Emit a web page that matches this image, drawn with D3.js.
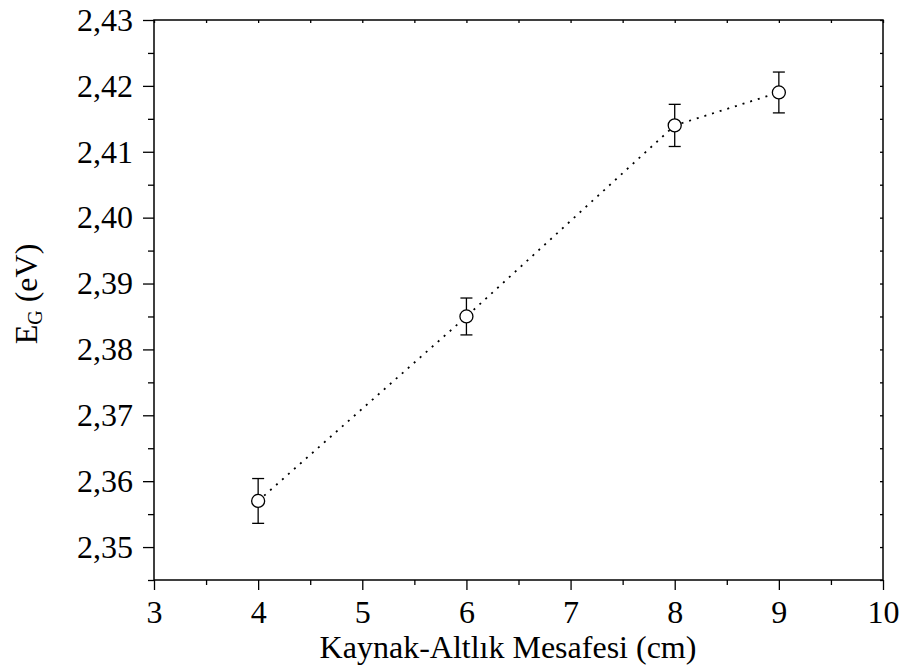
<!DOCTYPE html>
<html><head><meta charset="utf-8">
<script src="https://cdn.jsdelivr.net/npm/d3@7"></script>
<style>body{margin:0;background:#fff}svg{display:block}</style>
</head><body>
<svg id="c" width="903" height="672"></svg>
<script>
const distances = [4, 6, 8, 9];
const energies = [2.357, 2.385, 2.414, 2.419];
const errors = [0.0034, 0.0028, 0.0032, 0.0031];
const xTicks = [3, 4, 5, 6, 7, 8, 9, 10];
const yTicks = [2.35, 2.36, 2.37, 2.38, 2.39, 2.40, 2.41, 2.42, 2.43];

const svg = d3.select("#c");
const L = 154, R = 883, T = 20, B = 580;
const x = d3.scaleLinear().domain([3, 10]).range([L, R]);
const y = d3.scaleLinear().domain([2.345, 2.43]).range([B, T]);
const font = "'Liberation Serif','Times New Roman',serif";
const fmt = d => d3.format(".2f")(d).replace(".", ",");

// bottom axis
svg.append("g").attr("transform", `translate(0,${B})`)
  .call(d3.axisBottom(x).tickValues(xTicks).tickFormat(d3.format("d")).tickSize(10).tickPadding(10));
svg.append("g").attr("transform", `translate(0,${B})`)
  .call(d3.axisBottom(x).tickValues(d3.range(3.5, 10, 1)).tickFormat("").tickSize(5))
  .select(".domain").remove();
// left axis
svg.append("g").attr("transform", `translate(${L},0)`)
  .call(d3.axisLeft(y).tickValues(yTicks).tickFormat(fmt).tickSize(11).tickPadding(10));
svg.append("g").attr("transform", `translate(${L},0)`)
  .call(d3.axisLeft(y).tickValues(d3.range(2.345, 2.431, 0.01)).tickFormat("").tickSize(6))
  .select(".domain").remove();
// top axis
svg.append("g").attr("transform", `translate(0,${T})`)
  .call(d3.axisBottom(x).tickValues(d3.range(3, 10.01, 0.5)).tickFormat("").tickSize(3))
  .select(".domain").remove();
// right axis
svg.append("g").attr("transform", `translate(${R},0)`)
  .call(d3.axisLeft(y).tickValues(d3.range(2.345, 2.431, 0.005)).tickFormat("").tickSize(3))
  .select(".domain").remove();

svg.selectAll(".domain").remove();
svg.append("rect").attr("x", L).attr("y", T).attr("width", R - L).attr("height", B - T)
  .attr("fill", "none").attr("stroke", "#000").attr("stroke-width", 1.5);
svg.selectAll(".tick line").attr("stroke", "#000").attr("stroke-width", 1.3);
svg.selectAll(".tick text").attr("font-family", font).attr("font-size", 32).attr("fill", "#000");

// dotted line
svg.append("path")
  .datum(distances.map((d, i) => [d, energies[i]]))
  .attr("d", d3.line().x(d => x(d[0])).y(d => y(d[1])))
  .attr("fill", "none").attr("stroke", "#000").attr("stroke-width", 1.8)
  .attr("stroke-dasharray", "2,6");

// error bars
const eb = svg.append("g").attr("stroke", "#000").attr("stroke-width", 1.3);
distances.forEach((d, i) => {
  const cx = x(d), y1 = y(energies[i] + errors[i]), y2 = y(energies[i] - errors[i]);
  eb.append("line").attr("x1", cx).attr("x2", cx).attr("y1", y1).attr("y2", y2);
  eb.append("line").attr("x1", cx - 6).attr("x2", cx + 6).attr("y1", y1).attr("y2", y1);
  eb.append("line").attr("x1", cx - 6).attr("x2", cx + 6).attr("y1", y2).attr("y2", y2);
});
// markers
svg.append("g").selectAll("circle").data(distances).join("circle")
  .attr("cx", d => x(d)).attr("cy", (d, i) => y(energies[i])).attr("r", 6.5)
  .attr("fill", "#fff").attr("stroke", "#000").attr("stroke-width", 1.3);

// axis titles
svg.append("text").attr("x", 508).attr("y", 658).attr("text-anchor", "middle")
  .attr("font-family", font).attr("font-size", 32).text("Kaynak-Altlık Mesafesi (cm)");
const yt = svg.append("text").attr("transform", "translate(37,294) rotate(-90)")
  .attr("text-anchor", "middle").attr("font-family", font).attr("font-size", 32);
yt.append("tspan").text("E");
yt.append("tspan").attr("font-size", 20).attr("dy", 5).text("G");
yt.append("tspan").attr("dy", -5).text(" (eV)");
</script>
</body></html>
